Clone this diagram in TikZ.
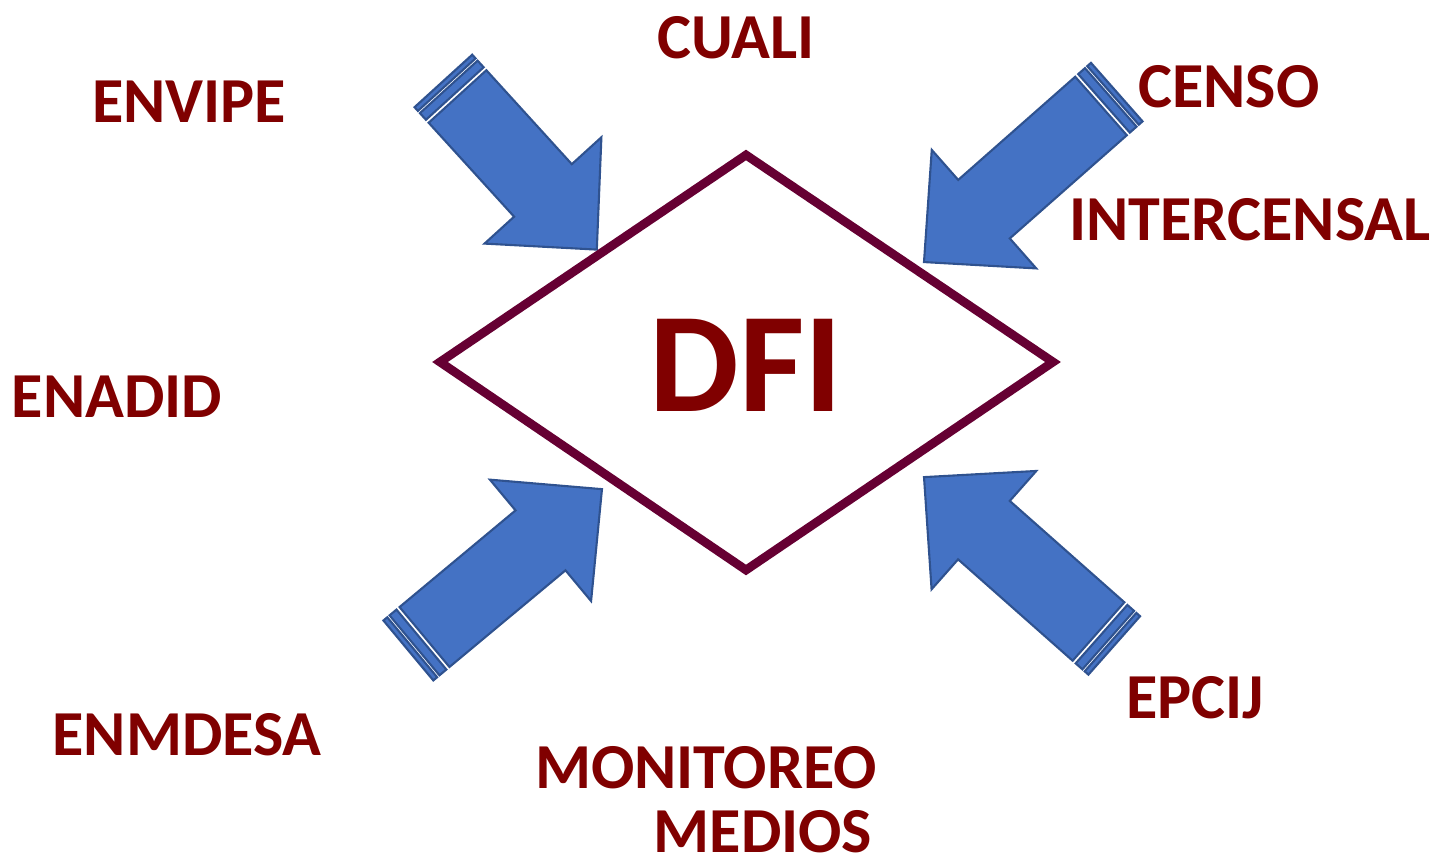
\documentclass[tikz,border=0pt]{standalone}
\usepackage{fontspec}
\setmainfont{Carlito}
\definecolor{dfired}{RGB}{128,0,0}
\definecolor{dfiframe}{RGB}{102,0,51}
\definecolor{arrowfill}{RGB}{68,114,196}
\definecolor{arrowline}{RGB}{47,82,143}
\tikzset{
	source/.style={text=dfired, font=\bfseries\fontsize{36.5}{40}\selectfont, inner sep=0pt, anchor=base},
	bigarrow/.style={fill=arrowfill, draw=arrowline, line width=1.2pt, line join=miter}
}
\begin{document}
\begin{tikzpicture}[x=0.02cm, y=-0.02cm]
				\useasboundingbox (0,0) rectangle (1435,862);
				% striped arrows: tail x / tail y / angle / body length
				\foreach \tx/\ty/\ang/\len in {457.5/96.5/-47.7/127, 1101/106/-138.6/156, 424.5/637/39.8/151, 1098.5/631.5/138.5/153}{
					\begin{scope}[shift={(\tx,\ty)}, rotate=\ang]
						\draw[bigarrow] (0,-39) -- (\len,-39) -- (\len,-79) -- (\len+80,0) -- (\len,79) -- (\len,39) -- (0,39) -- cycle;
						\draw[bigarrow] (-13,-39) rectangle (-4,39);
						\draw[bigarrow] (-21,-39) rectangle (-16,39);
					\end{scope}
				}
				% diamond
				\draw[dfiframe, line width=5pt, line join=miter] (746,155) -- (1053,362) -- (746,570) -- (440,362) -- cycle;
				\node[source, font=\bfseries\fontsize{81}{90}\selectfont] (dfi) at (746,411) {DFI};
				% sources
				\node[source] (cuali) at (736,58) {CUALI};
				\node[source] (envipe) at (189,122) {ENVIPE};
				\node[source] (censo) at (1229,107) {CENSO};
				\node[source] (intercensal) at (1250,240) {INTERCENSAL};
				\node[source] (enadid) at (117,417) {ENADID};
				\node[source] (enmdesa) at (187,755) {ENMDESA};
				\node[source] (epcij) at (1195,718) {EPCIJ};
				\node[source] (monitoreo) at (706,788) {MONITOREO};
				\node[source] (medios) at (763,852) {MEDIOS};
\end{tikzpicture}
\end{document}
